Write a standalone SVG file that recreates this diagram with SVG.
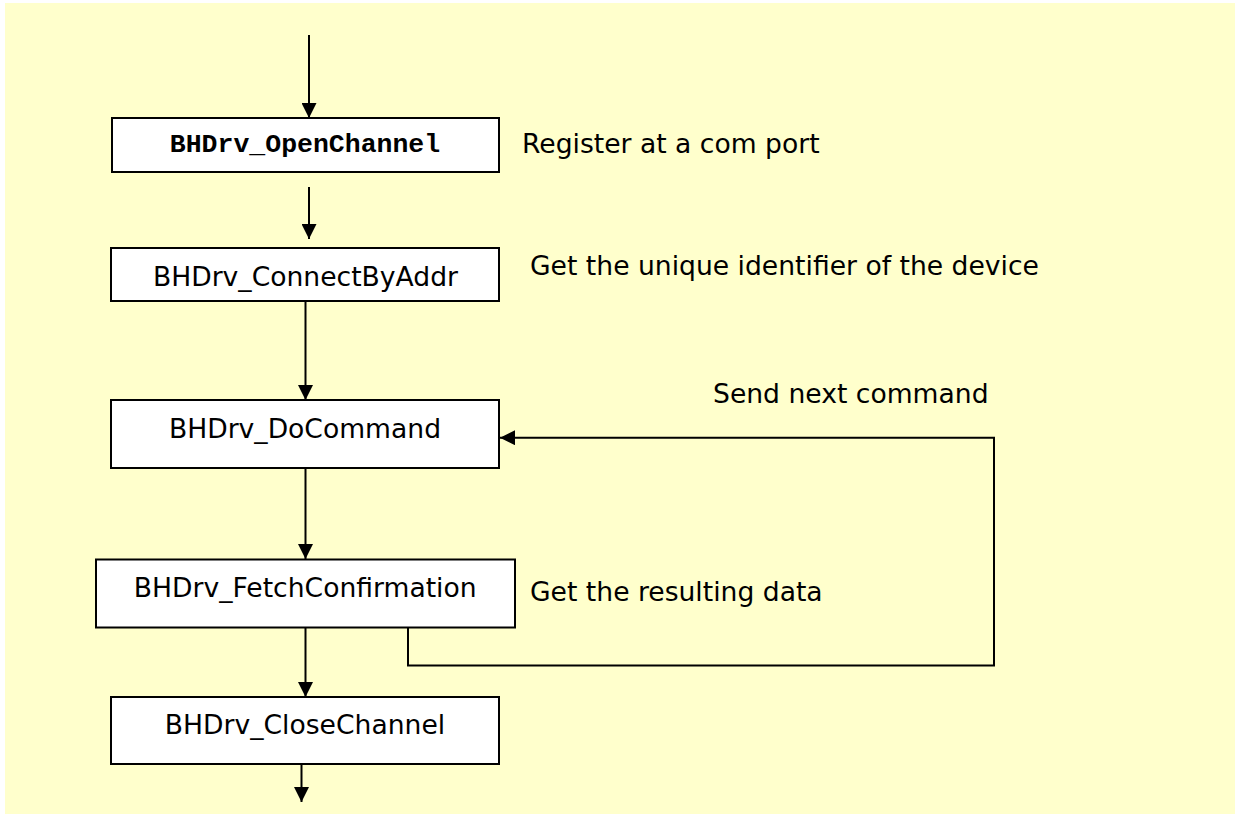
<svg xmlns="http://www.w3.org/2000/svg" width="1235" height="814" viewBox="0 0 1235 814">
  <style>
    .box { fill: #ffffff; stroke: #000000; stroke-width: 2; }
    .wire { fill: none; stroke: #000000; stroke-width: 2; }
    .name { font-family: "DejaVu Sans", Verdana, sans-serif; font-size: 26.6px; fill: #000000; text-anchor: middle; }
    .mono { font-family: "Liberation Mono", "Courier New", monospace; font-size: 26.5px; font-weight: bold; fill: #000000; text-anchor: middle; }
    .note { font-family: "DejaVu Sans", Verdana, sans-serif; font-size: 26.6px; fill: #000000; }
  </style>
  <defs>
    <marker id="head" markerUnits="userSpaceOnUse" markerWidth="15" markerHeight="15" refX="15" refY="7.5" orient="auto" viewBox="0 0 15 15">
      <path d="M0,0 L15,7.5 L0,15 Z" fill="#000000"/>
    </marker>
  </defs>

  <!-- page background -->
  <rect x="0" y="0" width="1235" height="814" fill="#ffffff"/>
  <rect x="5" y="3" width="1230" height="811" fill="#ffffcc"/>

  <!-- connectors -->
  <g id="connectors">
    <line class="wire" x1="309" y1="35" x2="309" y2="118" marker-end="url(#head)"/>
    <line class="wire" x1="309" y1="187" x2="309" y2="239" marker-end="url(#head)"/>
    <line class="wire" x1="305.5" y1="301" x2="305.5" y2="400" marker-end="url(#head)"/>
    <line class="wire" x1="305.5" y1="468" x2="305.5" y2="559" marker-end="url(#head)"/>
    <line class="wire" x1="305.5" y1="628" x2="305.5" y2="697" marker-end="url(#head)"/>
    <line class="wire" x1="301.5" y1="764" x2="301.5" y2="802" marker-end="url(#head)"/>
    <path class="wire" d="M408,628 V665.5 H994 V437.7 H500" marker-end="url(#head)"/>
  </g>

  <g id="open-channel">
    <rect class="box" x="112" y="118" width="387" height="54"/>
    <text class="mono" x="305" y="152">BHDrv_OpenChannel</text>
  </g>
  <g id="connect-by-addr">
    <rect class="box" x="111" y="248" width="388" height="53"/>
    <text class="name" x="305.5" y="286">BHDrv_ConnectByAddr</text>
  </g>
  <g id="do-command">
    <rect class="box" x="111" y="400" width="388" height="68"/>
    <text class="name" x="305" y="437.5">BHDrv_DoCommand</text>
  </g>
  <g id="fetch-confirmation">
    <rect class="box" x="96" y="559.5" width="419" height="68"/>
    <text class="name" x="305.2" y="596.5">BHDrv_FetchConfirmation</text>
  </g>
  <g id="close-channel">
    <rect class="box" x="111" y="697" width="388" height="67"/>
    <text class="name" x="305" y="734">BHDrv_CloseChannel</text>
  </g>

  <!-- side notes -->
  <g id="notes">
    <text class="note" x="522" y="153">Register at a com port</text>
    <text class="note" x="530" y="275">Get the unique identifier of the device</text>
    <text class="note" x="713" y="403">Send next command</text>
    <text class="note" x="530" y="600.5">Get the resulting data</text>
  </g>
</svg>
